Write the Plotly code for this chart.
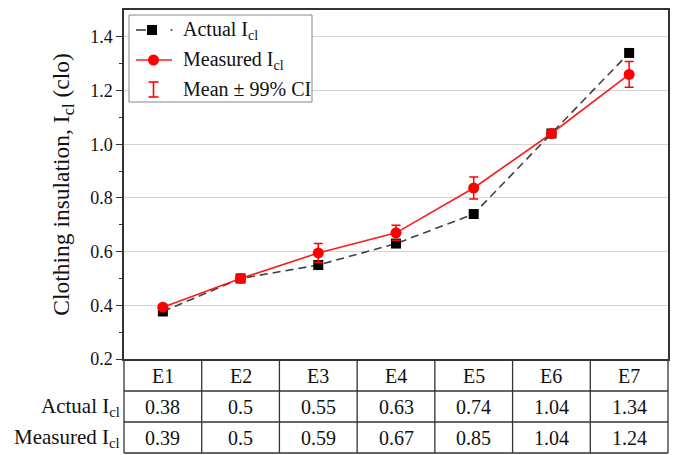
import plotly.graph_objects as go

categories = ["E1", "E2", "E3", "E4", "E5", "E6", "E7"]
actual_plot = [0.377, 0.50, 0.55, 0.63, 0.74, 1.04, 1.34]
measured_plot = [0.393, 0.50, 0.595, 0.67, 0.837, 1.04, 1.26]
measured_ci = [0.010, 0.012, 0.035, 0.028, 0.041, 0.010, 0.048]
actual_table = ["0.38", "0.5", "0.55", "0.63", "0.74", "1.04", "1.34"]
measured_table = ["0.39", "0.5", "0.59", "0.67", "0.85", "1.04", "1.24"]
row_labels = ["Actual I<sub>cl</sub>", "Measured I<sub>cl</sub>"]
legend_labels = ["Actual I<sub>cl</sub>", "Measured I<sub>cl</sub>", "Mean ± 99% CI"]

W, H = 676, 455
L, R, T, B = 124, 8, 10, 96
PW, PH = W - L - R, H - T - B
FONT = "Liberation Serif, Times New Roman, serif"
AX = "#333333"


def px(x):
    return (x - L) / PW


def py(y):
    return (H - B - y) / PH


fig = go.Figure()
fig.add_trace(go.Scatter(
    x=categories, y=actual_plot, mode="lines+markers",
    line=dict(color="#404040", width=1.6, dash="8px,5px"),
    marker=dict(symbol="square", size=10, color="black"),
    showlegend=False,
))
fig.add_trace(go.Scatter(
    x=categories, y=measured_plot, mode="lines+markers",
    line=dict(color="#ff1a1a", width=1.6),
    marker=dict(symbol="circle", size=11, color="#ff0000"),
    error_y=dict(type="data", array=measured_ci, color="#ff0000", thickness=1.5, width=4.5),
    showlegend=False,
))

shapes = []
annotations = []

# table lines
row_bounds = [391, 422, 453]
for yb in row_bounds:
    shapes.append(dict(type="line", xref="paper", yref="paper", x0=0, x1=1,
                       y0=py(yb), y1=py(yb), line=dict(color=AX, width=1.3)))
for i in range(len(categories) - 1):
    shapes.append(dict(type="line", xref="x", yref="paper", x0=i + 0.5, x1=i + 0.5,
                       y0=0, y1=py(453), line=dict(color=AX, width=1.3)))
for xe in (0, 1):
    shapes.append(dict(type="line", xref="paper", yref="paper", x0=xe, x1=xe,
                       y0=0, y1=py(453), line=dict(color=AX, width=1.3)))

row_centers = [375.5, 407, 438.5]
for i, c in enumerate(categories):
    for r, txt in enumerate([c, actual_table[i], measured_table[i]]):
        annotations.append(dict(x=i, xref="x", y=py(row_centers[r]), yref="paper",
                                text=txt, showarrow=False, xanchor="center", yanchor="middle",
                                font=dict(family=FONT, size=20, color="#111")))
for r, lab in enumerate(row_labels):
    annotations.append(dict(x=px(122), xref="paper", y=py(row_centers[r + 1]), yref="paper",
                            text=lab, showarrow=False, xanchor="right", yanchor="middle",
                            font=dict(family=FONT, size=21, color="#111")))

# legend box
shapes.append(dict(type="rect", xref="paper", yref="paper", x0=px(129), x1=px(312),
                   y0=py(102), y1=py(15), line=dict(color="#888888", width=1),
                   fillcolor="white", layer="above"))
# entry 1
for (xa, xb) in [(136, 146), (170.5, 172.5)]:
    shapes.append(dict(type="line", xref="paper", yref="paper", x0=px(xa), x1=px(xb),
                       y0=py(30), y1=py(30), line=dict(color="#404040", width=1.6),
                       layer="above"))
shapes.append(dict(type="rect", xref="paper", yref="paper", x0=px(147), x1=px(157),
                   y0=py(35), y1=py(25), line=dict(color="black", width=0),
                   fillcolor="black", layer="above"))
# entry 2
shapes.append(dict(type="line", xref="paper", yref="paper", x0=px(136), x1=px(172),
                   y0=py(60), y1=py(60), line=dict(color="#ff1a1a", width=1.6), layer="above"))
shapes.append(dict(type="circle", xref="paper", yref="paper", x0=px(148), x1=px(159),
                   y0=py(65.5), y1=py(54.5), line=dict(color="#ff0000", width=0),
                   fillcolor="#ff0000", layer="above"))
# entry 3 (error bar glyph)
for (xa, xb, ya, yb) in [(153.5, 153.5, 82, 97), (148.5, 158.5, 82, 82), (148.5, 158.5, 97, 97)]:
    shapes.append(dict(type="line", xref="paper", yref="paper", x0=px(xa), x1=px(xb),
                       y0=py(ya), y1=py(yb), line=dict(color="#ff0000", width=1.6), layer="above"))
for lab, yc in zip(legend_labels, [30, 60, 89]):
    annotations.append(dict(x=px(181), xref="paper", y=py(yc), yref="paper", text=lab,
                            showarrow=False, xanchor="left", yanchor="middle",
                            font=dict(family=FONT, size=20, color="#111")))

fig.update_layout(
    width=W, height=H,
    margin=dict(l=L, r=R, t=T, b=B),
    paper_bgcolor="white", plot_bgcolor="white",
    font=dict(family=FONT, size=18, color="#111"),
    shapes=shapes, annotations=annotations,
    showlegend=False,
)
fig.update_xaxes(type="category", range=[-0.5, 6.5], showticklabels=False, ticks="",
                 showgrid=False, showline=True, linecolor=AX, linewidth=1.5, mirror=True,
                 zeroline=False, automargin=False)
fig.update_yaxes(range=[0.2, 1.5], tickvals=[0.2, 0.4, 0.6, 0.8, 1.0, 1.2, 1.4],
                 tickformat=".1f", ticks="outside", ticklen=6, tickcolor=AX,
                 minor=dict(tickvals=[0.3, 0.5, 0.7, 0.9, 1.1, 1.3], ticks="outside",
                            ticklen=3, tickcolor=AX, showgrid=False),
                 showgrid=True, gridcolor="#d4d4d4", gridwidth=1,
                 showline=True, linecolor=AX, linewidth=1.5, mirror=True, zeroline=False,
                 automargin=False,
                 tickfont=dict(family=FONT, size=18, color="#111"),
                 title=dict(text="Clothing insulation, I<sub>cl</sub> (clo)", standoff=14,
                            font=dict(family=FONT, size=23.5, color="#111")))

fig.write_html("out.html", config={"displayModeBar": False},
               post_script="document.body.style.margin='0';document.body.style.overflow='hidden';")
